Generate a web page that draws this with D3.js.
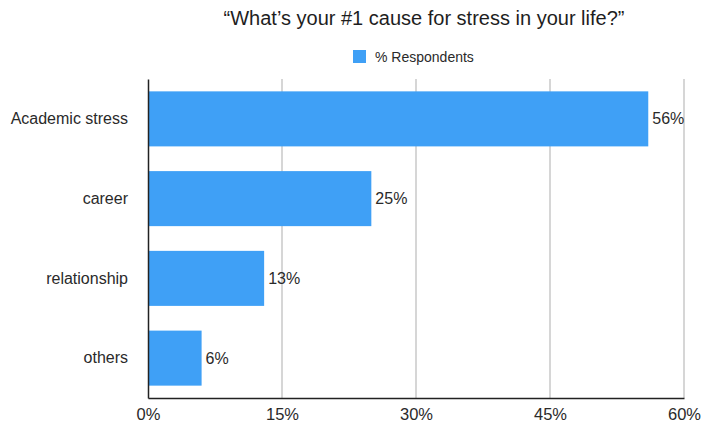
<!DOCTYPE html>
<html>
<head>
<meta charset="utf-8">
<script src="https://cdn.jsdelivr.net/npm/d3@7"></script>
<style>
  html, body { margin: 0; padding: 0; background: #fff; }
  svg { display: block; font-family: "Liberation Sans", Arial, sans-serif; }
</style>
</head>
<body>
<svg id="chart" width="703" height="425"></svg>
<script>
const categories = ["Academic stress", "career", "relationship", "others"];
const values = [56, 25, 13, 6];
const tickValues = [0, 15, 30, 45, 60];
const seriesName = "% Respondents";
const title = "\u201cWhat\u2019s your #1 cause for stress in your life?\u201d";

const svg = d3.select("#chart");
const margin = { left: 148, right: 19, top: 79, bottom: 27 };
const W = 703, H = 425;
const barColor = "#3fa0f6";
const textColor = "#2a2a2a";
const fontFamily = "Liberation Sans, Arial, sans-serif";

const x = d3.scaleLinear().domain([0, 60]).range([margin.left, W - margin.right]);
const y = d3.scaleBand().domain(categories).range([margin.top, H - margin.bottom]).paddingInner(0.31).paddingOuter(0.155);

// title
svg.append("text")
  .attr("x", 424).attr("y", 25)
  .attr("text-anchor", "middle")
  .attr("font-size", 20)
  .attr("fill", "#1e1e1e")
  .text(title);

// legend
svg.append("rect").attr("x", 353).attr("y", 50).attr("width", 13).attr("height", 13).attr("fill", barColor);
svg.append("text").attr("x", 375).attr("y", 61.5).attr("font-size", 14).attr("fill", textColor).text(seriesName);

// vertical gridlines
svg.append("g").selectAll("line").data(tickValues.filter(d => d > 0)).join("line")
  .attr("x1", d => x(d)).attr("x2", d => x(d))
  .attr("y1", margin.top).attr("y2", H - margin.bottom)
  .attr("stroke", "#c8c8c8").attr("stroke-width", 1.5);

// bars
svg.append("g").selectAll("rect").data(values).join("rect")
  .attr("x", x(0))
  .attr("y", (d, i) => y(categories[i]))
  .attr("width", d => x(d) - x(0))
  .attr("height", y.bandwidth())
  .attr("fill", barColor);

// value labels
svg.append("g").selectAll("text").data(values).join("text")
  .attr("x", d => x(d) + 4)
  .attr("y", (d, i) => y(categories[i]) + y.bandwidth() / 2)
  .attr("dy", "0.35em")
  .attr("font-size", 16)
  .attr("fill", textColor)
  .text(d => d + "%");

// x axis
const xAxis = svg.append("g")
  .attr("transform", `translate(0,${H - margin.bottom})`)
  .call(d3.axisBottom(x).tickValues(tickValues).tickFormat(d => d + "%").tickSize(0).tickPadding(10));
xAxis.select(".domain").attr("stroke", "#222").attr("stroke-width", 1.5);
xAxis.selectAll("text").attr("font-size", 16.5).attr("fill", textColor).attr("font-family", fontFamily);

// y axis
const yAxis = svg.append("g")
  .attr("transform", `translate(${margin.left},0)`)
  .call(d3.axisLeft(y).tickSize(0).tickPadding(20));
yAxis.select(".domain").attr("stroke", "#222").attr("stroke-width", 1.5);
yAxis.selectAll("text").attr("font-size", 16).attr("fill", textColor).attr("font-family", fontFamily);
</script>
</body>
</html>
